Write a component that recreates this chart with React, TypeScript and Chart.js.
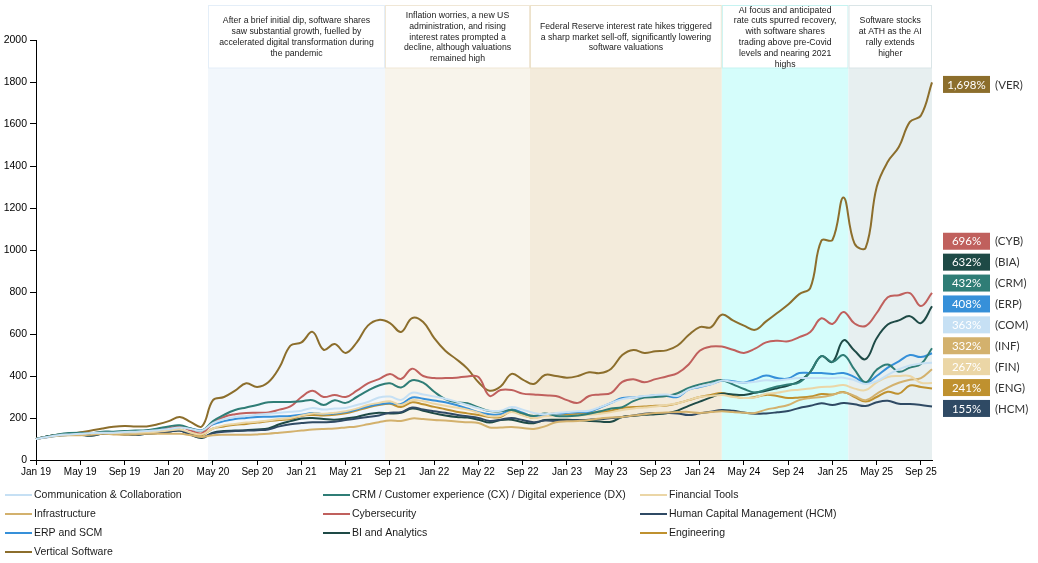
import { useEffect, useRef } from 'react';
import { Chart, registerables } from 'chart.js';

Chart.register(...registerables);

const MONTH_NAMES = ['Jan', 'Feb', 'Mar', 'Apr', 'May', 'Jun', 'Jul', 'Aug', 'Sep', 'Oct', 'Nov', 'Dec'];
const months: string[] = [];
for (let y = 19; y <= 25; y++) {
  for (let m = 0; m < 12; m++) {
    if (y === 25 && m > 9) break;
    months.push(`${MONTH_NAMES[m]} ${y}`);
  }
}

const yTicks = [0, 200, 400, 600, 800, 1000, 1200, 1400, 1600, 1800, 2000];

// Series (indexed, Jan 19 = 100)
const COM = [
  100, 110, 118, 122, 125, 128, 130, 130, 133, 135, 138, 142,
  148, 155, 148, 140, 175, 195, 205, 210, 215, 220, 225, 230,
  235, 248, 240, 245, 248, 262, 276, 298, 302, 286, 320, 312,
  302, 292, 278, 262, 246, 235, 235, 252, 240, 224, 218, 224,
  228, 232, 235, 252, 272, 290, 298, 305, 310, 312, 305, 335,
  350, 360, 378, 372, 368, 372, 380, 378, 385, 390, 390, 390,
  390, 392, 380, 362, 375, 405, 432, 450, 460, 463,
];
const CRM = [
  100, 112, 122, 128, 130, 128, 135, 135, 138, 140, 142, 150,
  160, 165, 150, 140, 185, 215, 238, 250, 262, 275, 276, 276,
  280, 285, 262, 285, 272, 300, 330, 355, 365, 345, 380, 368,
  325, 290, 275, 270, 250, 233, 232, 238, 222, 210, 222, 210,
  208, 212, 220, 232, 245, 252, 280, 297, 300, 305, 318, 343,
  360, 372, 380, 360, 338, 322, 335, 350, 360, 370, 420, 495,
  467, 500, 430, 370, 430, 455, 420, 440, 457, 532,
];
const FIN = [
  100, 110, 118, 122, 125, 126, 128, 128, 130, 130, 132, 135,
  140, 145, 130, 122, 150, 165, 172, 178, 182, 188, 195, 200,
  212, 222, 220, 225, 232, 245, 262, 272, 280, 262, 285, 280,
  268, 258, 250, 240, 225, 208, 210, 228, 212, 200, 208, 212,
  210, 212, 215, 220, 228, 238, 245, 250, 255, 262, 270, 285,
  300, 305, 310, 300, 295, 298, 315, 320, 330, 335, 340, 348,
  350, 357, 340, 333, 370, 395, 400, 400, 368, 367,
];
const INF = [
  100, 110, 115, 118, 118, 120, 125, 122, 120, 122, 125, 125,
  125, 125, 118, 110, 118, 120, 120, 120, 122, 125, 130, 135,
  140, 145, 148, 150, 155, 160, 170, 180, 188, 186, 198, 195,
  190, 188, 183, 180, 176, 155, 155, 157, 152, 148, 160, 180,
  184, 186, 190, 198, 202, 205, 212, 218, 224, 226, 228, 229,
  224, 228, 232, 228, 225, 224, 240, 250, 262, 285, 295, 300,
  310, 322, 305, 285, 315, 345, 368, 382, 390, 432,
];
const CYB = [
  100, 110, 118, 122, 125, 128, 130, 132, 135, 133, 132, 138,
  150, 160, 140, 128, 175, 205, 218, 224, 225, 226, 240, 255,
  300, 330, 300, 310, 300, 330, 365, 385, 410, 386, 435, 400,
  390, 390, 392, 398, 395, 305, 333, 333, 316, 312, 308, 305,
  285, 272, 305, 312, 320, 372, 385, 370, 385, 398, 414, 455,
  520, 540, 540, 525, 510, 530, 560, 568, 565, 585, 610, 675,
  648, 705, 650, 638, 700, 775, 785, 795, 733, 796,
];
const HCM = [
  100, 112, 118, 122, 120, 118, 125, 125, 122, 120, 125, 128,
  135, 140, 120, 108, 128, 135, 138, 140, 142, 145, 160, 170,
  176, 180, 180, 182, 190, 198, 205, 212, 225, 228, 250, 240,
  232, 225, 215, 208, 200, 186, 192, 200, 190, 180, 188, 186,
  188, 190, 192, 195, 200, 205, 212, 220, 224, 224, 222, 214,
  222, 230, 238, 234, 226, 220, 222, 227, 233, 248, 258, 270,
  262, 271, 265, 257, 275, 282, 268, 267, 262, 255,
];
const ERP = [
  100, 108, 115, 120, 125, 128, 130, 130, 132, 135, 140, 145,
  150, 158, 150, 142, 170, 185, 195, 200, 205, 206, 208, 210,
  215, 224, 218, 222, 228, 240, 255, 265, 270, 267, 298, 292,
  283, 275, 262, 245, 228, 218, 218, 240, 225, 205, 212, 215,
  225, 227, 230, 250, 272, 295, 298, 302, 308, 305, 300, 335,
  348, 360, 378, 375, 368, 385, 402, 390, 388, 414, 414, 414,
  410, 414, 395, 367, 400, 440, 470, 500, 490, 508,
];
const BIA = [
  100, 112, 120, 125, 120, 115, 125, 125, 122, 120, 125, 128,
  135, 140, 120, 105, 130, 138, 140, 142, 145, 150, 170, 185,
  198, 200, 195, 192, 198, 205, 218, 225, 222, 225, 245, 235,
  222, 212, 205, 202, 192, 178, 190, 192, 180, 175, 190, 192,
  192, 190, 186, 183, 182, 205, 210, 215, 218, 222, 235, 258,
  278, 298, 316, 312, 310, 320, 330, 342, 355, 375, 420, 495,
  467, 570, 520, 480, 580, 645, 665, 685, 652, 732,
];
const ENG = [
  100, 112, 120, 125, 125, 128, 130, 130, 128, 130, 132, 135,
  140, 145, 125, 118, 150, 160, 168, 172, 178, 185, 190, 195,
  210, 214, 212, 215, 222, 235, 250, 262, 268, 252, 275, 265,
  253, 242, 230, 222, 214, 205, 205, 232, 215, 200, 215, 222,
  215, 220, 225, 228, 235, 248, 252, 255, 258, 260, 270, 285,
  300, 310, 319, 305, 295, 300, 310, 305, 295, 298, 302, 314,
  312, 324, 300, 278, 300, 325, 316, 355, 348, 341,
];
const VER = [
  100, 110, 118, 122, 132, 140, 150, 158, 162, 160, 160, 170,
  185, 205, 180, 160, 285, 300, 330, 365, 348, 370, 440, 545,
  560, 610, 525, 552, 510, 560, 640, 667, 652, 610, 676, 657,
  580, 520, 480, 435, 370, 330, 350, 410, 383, 362, 405, 400,
  392, 400, 418, 414, 435, 500, 524, 510, 518, 522, 545, 595,
  633, 632, 692, 665, 640, 620, 660, 700, 740, 790, 820, 1045,
  1048, 1250, 1030, 1010, 1300, 1420, 1490, 1610, 1640, 1798,
];

const seriesNames = [
  'Communication & Collaboration',
  'CRM / Customer experience (CX) / Digital experience (DX)',
  'Financial Tools',
  'Infrastructure',
  'Cybersecurity',
  'Human Capital Management (HCM)',
  'ERP and SCM',
  'BI and Analytics',
  'Engineering',
  'Vertical Software',
];
const seriesCodes = ['COM', 'CRM', 'FIN', 'INF', 'CYB', 'HCM', 'ERP', 'BIA', 'ENG', 'VER'];
const seriesData = [COM, CRM, FIN, INF, CYB, HCM, ERP, BIA, ENG, VER];
const seriesColors = [
  '#c6e0f4', '#2f7d76', '#ebd6a6', '#d3b16d', '#c0605d',
  '#2f4a64', '#3690d9', '#1e4a46', '#bf912f', '#8c6e2c',
];

// Period bands (month index on the category axis)
const bandStart = [15.55, 31.55, 44.66, 62.0, 73.45];
const bandEnd = [31.55, 44.66, 62.0, 73.45, 81];
const bandFill = ['#f2f7fc', '#f8f4eb', '#f3ebdb', '#d5fdfb', '#e7eff0'];
const bandBorder = ['#e4eef8', '#f0e7d6', '#ede2cb', '#c6f3f1', '#dae5e7'];
const bandNotes: string[][] = [
  ['After a brief initial dip, software shares', 'saw substantial growth, fuelled by', 'accelerated digital transformation during', 'the pandemic'],
  ['Inflation worries, a new US', 'administration, and rising', 'interest rates prompted a', 'decline, although valuations', 'remained high'],
  ['Federal Reserve interest rate hikes triggered', 'a sharp market sell-off, significantly lowering', 'software valuations'],
  ['AI focus and anticipated', 'rate cuts spurred recovery,', 'with software shares', 'trading above pre-Covid', 'levels and nearing 2021', 'highs'],
  ['Software stocks', 'at ATH as the AI', 'rally extends', 'higher'],
];

const bandsPlugin = {
  id: 'bands',
  beforeDatasetsDraw(chart: any) {
    const { ctx, chartArea, scales } = chart;
    const x = scales.x;
    const boxTop = 5.5;
    const boxBottom = 68;
    ctx.save();
    for (let i = 0; i < bandStart.length; i++) {
      const x1 = x.getPixelForValue(bandStart[i]);
      const x2 = x.getPixelForValue(bandEnd[i]);
      ctx.fillStyle = bandFill[i];
      ctx.fillRect(x1, boxBottom, x2 - x1, chartArea.bottom - boxBottom);
      ctx.fillStyle = '#ffffff';
      ctx.fillRect(x1, boxTop, x2 - x1, boxBottom - boxTop);
      ctx.strokeStyle = bandBorder[i];
      ctx.lineWidth = 1;
      ctx.strokeRect(x1 + 0.5, boxTop, x2 - x1 - 1, boxBottom - boxTop);
      ctx.fillStyle = '#1a1a1a';
      ctx.font = "8.7px 'Liberation Sans', Arial, sans-serif";
      ctx.textAlign = 'center';
      ctx.textBaseline = 'middle';
      const lines = bandNotes[i];
      const lh = 10.8;
      const cy = (boxTop + boxBottom) / 2 + 0.5;
      const y0 = cy - ((lines.length - 1) * lh) / 2;
      lines.forEach((t, k) => ctx.fillText(t, (x1 + x2) / 2, y0 + k * lh));
    }
    ctx.restore();
  },
};

const rightLabelsPlugin = {
  id: 'rightLabels',
  afterDatasetsDraw(chart: any) {
    const { ctx } = chart;
    const items = chart.data.datasets.map((ds: any, i: number) => {
      const meta = chart.getDatasetMeta(i);
      const pt = meta.data[meta.data.length - 1];
      const v = ds.data[ds.data.length - 1] as number;
      return { y: pt.y + 2, v, color: seriesColors[i], code: seriesCodes[i] };
    }).sort((a: any, b: any) => a.v - b.v);
    let prev = Infinity;
    ctx.save();
    items.forEach((it: any) => {
      const y = Math.min(it.y, prev - 20.9);
      prev = y;
      ctx.fillStyle = it.color;
      ctx.fillRect(943, y - 8.5, 47, 17);
      ctx.fillStyle = '#ffffff';
      ctx.font = "11.5px Lato, 'Noto Sans', sans-serif";
      ctx.textAlign = 'center';
      ctx.textBaseline = 'middle';
      ctx.fillText(`${Math.round(it.v - 100).toLocaleString('en-US')}%`, 966.5, y + 0.5);
      ctx.fillStyle = '#333333';
      ctx.textAlign = 'left';
      ctx.fillText(`(${it.code})`, 995, y + 0.5);
    });
    ctx.restore();
  },
};

const legendCols = [5, 323, 640];
const legendRows = [495, 514, 533, 552];

const legendPlugin = {
  id: 'colLegend',
  afterDraw(chart: any) {
    const { ctx } = chart;
    ctx.save();
    ctx.font = "10.5px 'Liberation Sans', Arial, sans-serif";
    ctx.textBaseline = 'middle';
    ctx.textAlign = 'left';
    seriesNames.forEach((name, i) => {
      const x = legendCols[i % 3];
      const y = legendRows[Math.floor(i / 3)];
      ctx.strokeStyle = seriesColors[i];
      ctx.lineWidth = 2;
      ctx.beginPath();
      ctx.moveTo(x, y);
      ctx.lineTo(x + 27, y);
      ctx.stroke();
      ctx.fillStyle = '#1a1a1a';
      ctx.fillText(name, x + 29, y);
    });
    ctx.restore();
  },
};

export default function App() {
  const ref = useRef<HTMLCanvasElement | null>(null);

  useEffect(() => {
    if (!ref.current) return;
    const chart = new Chart(ref.current, {
      type: 'line',
      data: {
        labels: months,
        datasets: seriesData.map((d, i) => ({
          label: seriesNames[i],
          data: d,
          borderColor: seriesColors[i],
          backgroundColor: seriesColors[i],
          borderWidth: 2,
          pointRadius: 0,
          tension: 0.4,
          fill: false,
        })),
      },
      options: {
        animation: false,
        responsive: false,
        maintainAspectRatio: false,
        devicePixelRatio: 1,
        layout: { padding: { left: 0, right: 106, top: 40, bottom: 73 } },
        plugins: {
          legend: { display: false },
          tooltip: { enabled: false },
        },
        scales: {
          x: {
            type: 'category',
            offset: false,
            grid: {
              display: true,
              drawOnChartArea: false,
              drawTicks: true,
              tickLength: 5,
              color: (c: any) => (c.index % 4 === 0 ? '#000000' : 'rgba(0,0,0,0)'),
            },
            border: { display: true, color: '#000000', width: 1 },
            ticks: {
              autoSkip: false,
              maxRotation: 0,
              minRotation: 0,
              padding: 1,
              color: '#000000',
              font: { family: "'Liberation Sans', Arial, sans-serif", size: 10 },
              callback: (_v: any, i: number) => (i % 4 === 0 ? months[i] : ''),
            },
            afterFit: (s: any) => { s.height = 30; },
          },
          y: {
            min: yTicks[0],
            max: yTicks[yTicks.length - 1],
            afterBuildTicks: (s: any) => { s.ticks = yTicks.map((v) => ({ value: v })); },
            grid: { drawOnChartArea: false, drawTicks: true, tickLength: 6, color: '#000000' },
            border: { display: true, color: '#000000', width: 1 },
            ticks: {
              padding: 3,
              color: '#000000',
              font: { family: "'Liberation Sans', Arial, sans-serif", size: 10.5 },
              callback: (v: any) => String(v),
            },
            afterFit: (s: any) => { s.width = 36; },
          },
        },
      },
      plugins: [bandsPlugin, rightLabelsPlugin, legendPlugin],
    } as any);
    return () => chart.destroy();
  }, []);

  return (
    <div style={{ position: 'absolute', left: 0, top: 0, width: 1038, height: 563, background: '#ffffff' }}>
      <canvas ref={ref} width={1038} height={563} style={{ width: 1038, height: 563, display: 'block' }} />
    </div>
  );
}
